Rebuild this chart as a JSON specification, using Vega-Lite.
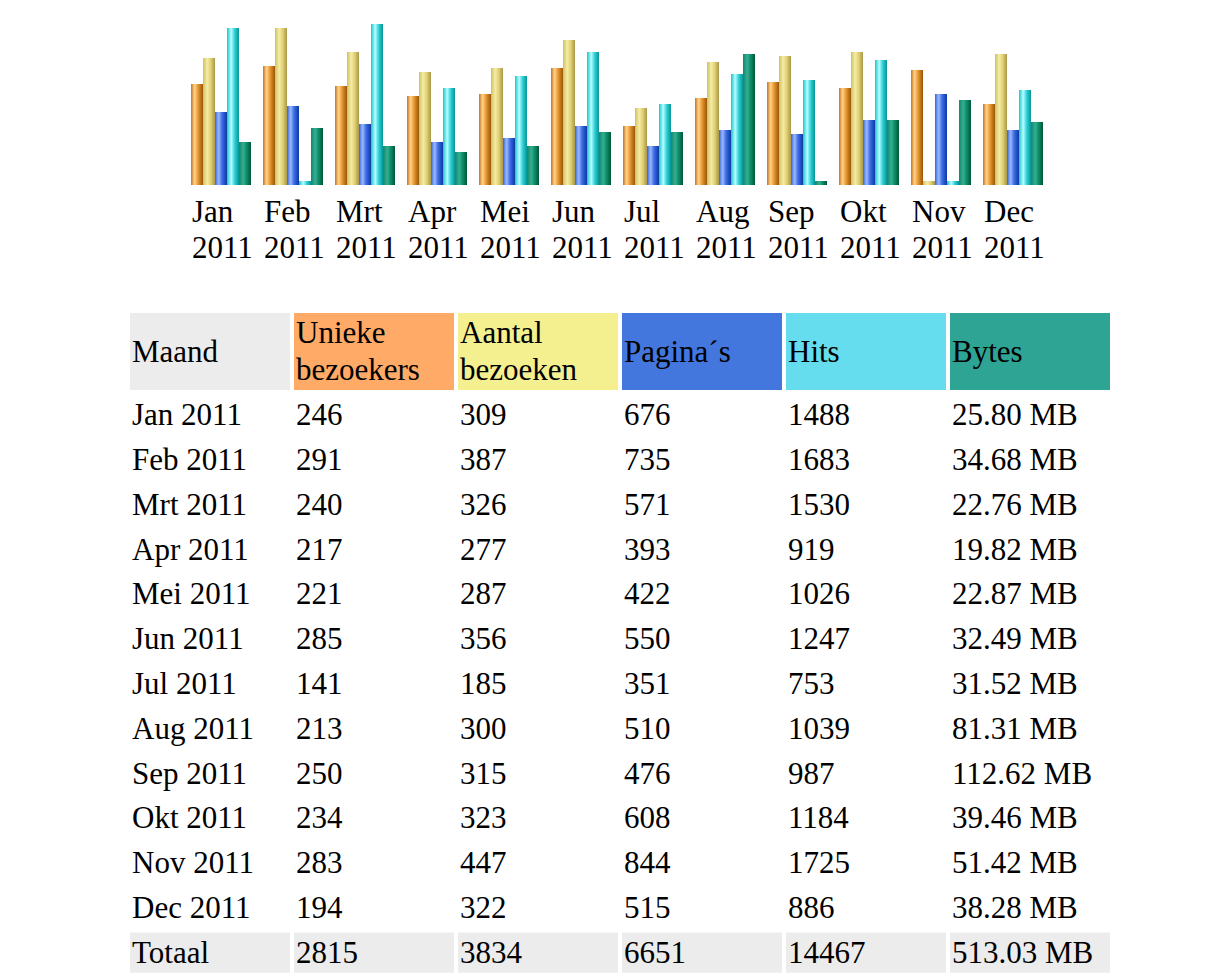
{
  "$schema": "https://vega.github.io/schema/vega-lite/v6.json",
  "background": "white",
  "padding": {"left": 130, "top": 15, "right": 0, "bottom": 0},
  "autosize": {"type": "pad"},
  "bounds": "flush",
  "spacing": 128,
  "config": {
    "view": {"stroke": null},
    "font": "Liberation Serif",
    "text": {"font": "Liberation Serif", "fontSize": 31, "color": "#000000"}
  },
  "datasets": {
    "staven": [
      {"maand": "Jan 2011", "reeks": "u", "waarde": 101},
      {"maand": "Jan 2011", "reeks": "v", "waarde": 127},
      {"maand": "Jan 2011", "reeks": "p", "waarde": 73},
      {"maand": "Jan 2011", "reeks": "h", "waarde": 157},
      {"maand": "Jan 2011", "reeks": "k", "waarde": 43},
      {"maand": "Feb 2011", "reeks": "u", "waarde": 119},
      {"maand": "Feb 2011", "reeks": "v", "waarde": 157},
      {"maand": "Feb 2011", "reeks": "p", "waarde": 79},
      {"maand": "Feb 2011", "reeks": "h", "waarde": 4},
      {"maand": "Feb 2011", "reeks": "k", "waarde": 57},
      {"maand": "Mrt 2011", "reeks": "u", "waarde": 99},
      {"maand": "Mrt 2011", "reeks": "v", "waarde": 133},
      {"maand": "Mrt 2011", "reeks": "p", "waarde": 61},
      {"maand": "Mrt 2011", "reeks": "h", "waarde": 161},
      {"maand": "Mrt 2011", "reeks": "k", "waarde": 39},
      {"maand": "Apr 2011", "reeks": "u", "waarde": 89},
      {"maand": "Apr 2011", "reeks": "v", "waarde": 113},
      {"maand": "Apr 2011", "reeks": "p", "waarde": 43},
      {"maand": "Apr 2011", "reeks": "h", "waarde": 97},
      {"maand": "Apr 2011", "reeks": "k", "waarde": 33},
      {"maand": "Mei 2011", "reeks": "u", "waarde": 91},
      {"maand": "Mei 2011", "reeks": "v", "waarde": 117},
      {"maand": "Mei 2011", "reeks": "p", "waarde": 47},
      {"maand": "Mei 2011", "reeks": "h", "waarde": 109},
      {"maand": "Mei 2011", "reeks": "k", "waarde": 39},
      {"maand": "Jun 2011", "reeks": "u", "waarde": 117},
      {"maand": "Jun 2011", "reeks": "v", "waarde": 145},
      {"maand": "Jun 2011", "reeks": "p", "waarde": 59},
      {"maand": "Jun 2011", "reeks": "h", "waarde": 133},
      {"maand": "Jun 2011", "reeks": "k", "waarde": 53},
      {"maand": "Jul 2011", "reeks": "u", "waarde": 59},
      {"maand": "Jul 2011", "reeks": "v", "waarde": 77},
      {"maand": "Jul 2011", "reeks": "p", "waarde": 39},
      {"maand": "Jul 2011", "reeks": "h", "waarde": 81},
      {"maand": "Jul 2011", "reeks": "k", "waarde": 53},
      {"maand": "Aug 2011", "reeks": "u", "waarde": 87},
      {"maand": "Aug 2011", "reeks": "v", "waarde": 123},
      {"maand": "Aug 2011", "reeks": "p", "waarde": 55},
      {"maand": "Aug 2011", "reeks": "h", "waarde": 111},
      {"maand": "Aug 2011", "reeks": "k", "waarde": 131},
      {"maand": "Sep 2011", "reeks": "u", "waarde": 103},
      {"maand": "Sep 2011", "reeks": "v", "waarde": 129},
      {"maand": "Sep 2011", "reeks": "p", "waarde": 51},
      {"maand": "Sep 2011", "reeks": "h", "waarde": 105},
      {"maand": "Sep 2011", "reeks": "k", "waarde": 4},
      {"maand": "Okt 2011", "reeks": "u", "waarde": 97},
      {"maand": "Okt 2011", "reeks": "v", "waarde": 133},
      {"maand": "Okt 2011", "reeks": "p", "waarde": 65},
      {"maand": "Okt 2011", "reeks": "h", "waarde": 125},
      {"maand": "Okt 2011", "reeks": "k", "waarde": 65},
      {"maand": "Nov 2011", "reeks": "u", "waarde": 115},
      {"maand": "Nov 2011", "reeks": "v", "waarde": 4},
      {"maand": "Nov 2011", "reeks": "p", "waarde": 91},
      {"maand": "Nov 2011", "reeks": "h", "waarde": 4},
      {"maand": "Nov 2011", "reeks": "k", "waarde": 85},
      {"maand": "Dec 2011", "reeks": "u", "waarde": 81},
      {"maand": "Dec 2011", "reeks": "v", "waarde": 131},
      {"maand": "Dec 2011", "reeks": "p", "waarde": 55},
      {"maand": "Dec 2011", "reeks": "h", "waarde": 95},
      {"maand": "Dec 2011", "reeks": "k", "waarde": 63}
    ],
    "kop": [
      {"kolom": "Maand", "label": "Maand", "regels": 1},
      {"kolom": "Unieke", "label": "Unieke|bezoekers", "regels": 2},
      {"kolom": "Aantal", "label": "Aantal|bezoeken", "regels": 2},
      {"kolom": "Paginas", "label": "Pagina´s", "regels": 1},
      {"kolom": "Hits", "label": "Hits", "regels": 1},
      {"kolom": "Bytes", "label": "Bytes", "regels": 1}
    ],
    "tabel": [
      {"Maand": "Jan 2011", "Unieke": "246", "Aantal": "309", "Paginas": "676", "Hits": "1488", "Bytes": "25.80 MB"},
      {"Maand": "Feb 2011", "Unieke": "291", "Aantal": "387", "Paginas": "735", "Hits": "1683", "Bytes": "34.68 MB"},
      {"Maand": "Mrt 2011", "Unieke": "240", "Aantal": "326", "Paginas": "571", "Hits": "1530", "Bytes": "22.76 MB"},
      {"Maand": "Apr 2011", "Unieke": "217", "Aantal": "277", "Paginas": "393", "Hits": "919", "Bytes": "19.82 MB"},
      {"Maand": "Mei 2011", "Unieke": "221", "Aantal": "287", "Paginas": "422", "Hits": "1026", "Bytes": "22.87 MB"},
      {"Maand": "Jun 2011", "Unieke": "285", "Aantal": "356", "Paginas": "550", "Hits": "1247", "Bytes": "32.49 MB"},
      {"Maand": "Jul 2011", "Unieke": "141", "Aantal": "185", "Paginas": "351", "Hits": "753", "Bytes": "31.52 MB"},
      {"Maand": "Aug 2011", "Unieke": "213", "Aantal": "300", "Paginas": "510", "Hits": "1039", "Bytes": "81.31 MB"},
      {"Maand": "Sep 2011", "Unieke": "250", "Aantal": "315", "Paginas": "476", "Hits": "987", "Bytes": "112.62 MB"},
      {"Maand": "Okt 2011", "Unieke": "234", "Aantal": "323", "Paginas": "608", "Hits": "1184", "Bytes": "39.46 MB"},
      {"Maand": "Nov 2011", "Unieke": "283", "Aantal": "447", "Paginas": "844", "Hits": "1725", "Bytes": "51.42 MB"},
      {"Maand": "Dec 2011", "Unieke": "194", "Aantal": "322", "Paginas": "515", "Hits": "886", "Bytes": "38.28 MB"},
      {"Maand": "Totaal", "Unieke": "2815", "Aantal": "3834", "Paginas": "6651", "Hits": "14467", "Bytes": "513.03 MB"}
    ]
  },
  "vconcat": [
    {
      "width": 980,
      "height": 170,
      "data": {"name": "staven"},
      "encoding": {
        "x": {
          "field": "maand",
          "type": "nominal",
          "sort": null,
          "scale": {"paddingInner": 0.166667, "paddingOuter": 0.888889, "align": 0.4766},
          "axis": {
            "title": null,
            "domain": false,
            "ticks": false,
            "labelAngle": 0,
            "labelAlign": "left",
            "labelBaseline": "top",
            "labelOffset": -29,
            "labelPadding": 12,
            "labelFont": "Liberation Serif",
            "labelFontSize": 31,
            "labelColor": "#000000",
            "labelLineHeight": 36.7,
            "labelOverlap": false,
            "labelBound": false,
            "labelExpr": "split(datum.value, ' ')"
          }
        },
        "xOffset": {
          "field": "reeks",
          "type": "nominal",
          "scale": {"domain": ["u", "v", "p", "h", "k"], "paddingInner": 0, "paddingOuter": 0}
        },
        "y": {
          "field": "waarde",
          "type": "quantitative",
          "scale": {"domain": [0, 170], "nice": false, "zero": true},
          "axis": null
        }
      },
      "layer": [
        {
          "transform": [{"filter": "datum.reeks == 'u'"}],
          "mark": {"type": "bar", "color": {"gradient": "linear", "x1": 0, "y1": 0, "x2": 1, "y2": 0, "stops": [
            {"offset": 0, "color": "#c8761a"}, {"offset": 0.3, "color": "#ffd28c"}, {"offset": 0.6, "color": "#e6952e"}, {"offset": 1, "color": "#9a5506"}]}}
        },
        {
          "transform": [{"filter": "datum.reeks == 'v'"}],
          "mark": {"type": "bar", "color": {"gradient": "linear", "x1": 0, "y1": 0, "x2": 1, "y2": 0, "stops": [
            {"offset": 0, "color": "#d2bf60"}, {"offset": 0.35, "color": "#f4eda8"}, {"offset": 0.65, "color": "#e0cf70"}, {"offset": 1, "color": "#a8974a"}]}}
        },
        {
          "transform": [{"filter": "datum.reeks == 'p'"}],
          "mark": {"type": "bar", "color": {"gradient": "linear", "x1": 0, "y1": 0, "x2": 1, "y2": 0, "stops": [
            {"offset": 0, "color": "#3564d6"}, {"offset": 0.3, "color": "#9ab8ff"}, {"offset": 0.6, "color": "#3a6ae0"}, {"offset": 1, "color": "#0a3aa4"}]}}
        },
        {
          "transform": [{"filter": "datum.reeks == 'h'"}],
          "mark": {"type": "bar", "color": {"gradient": "linear", "x1": 0, "y1": 0, "x2": 1, "y2": 0, "stops": [
            {"offset": 0, "color": "#16c6ce"}, {"offset": 0.35, "color": "#bafcff"}, {"offset": 0.65, "color": "#2ccfd6"}, {"offset": 1, "color": "#089494"}]}}
        },
        {
          "transform": [{"filter": "datum.reeks == 'k'"}],
          "mark": {"type": "bar", "color": {"gradient": "linear", "x1": 0, "y1": 0, "x2": 1, "y2": 0, "stops": [
            {"offset": 0, "color": "#0a8a68"}, {"offset": 0.35, "color": "#38ab94"}, {"offset": 0.65, "color": "#0c8c66"}, {"offset": 1, "color": "#00563a"}]}}
        }
      ]
    },
    {
      "spacing": 3,
      "bounds": "flush",
      "vconcat": [
        {
          "width": 980,
          "height": 77,
          "data": {"name": "kop"},
          "encoding": {
            "x": {
              "field": "kolom",
              "type": "nominal",
              "scale": {"domain": ["Maand", "Unieke", "Aantal", "Paginas", "Hits", "Bytes"], "paddingInner": 0.02439, "paddingOuter": 0},
              "axis": null
            }
          },
          "layer": [
            {
              "mark": {"type": "rect"},
              "encoding": {
                "color": {
                  "field": "kolom",
                  "type": "nominal",
                  "scale": {"domain": ["Maand", "Unieke", "Aantal", "Paginas", "Hits", "Bytes"], "range": ["#ECECEC", "#FFAA66", "#F4F090", "#4477DD", "#66DDEE", "#2EA495"]},
                  "legend": null
                }
              }
            },
            {
              "transform": [{"filter": "datum.regels == 1"}],
              "mark": {"type": "text", "align": "left", "baseline": "middle", "dx": 2, "dy": 1, "font": "Liberation Serif", "fontSize": 31, "color": "#000000"},
              "encoding": {
                "x": {"field": "kolom", "type": "nominal", "bandPosition": 0},
                "text": {"field": "label", "type": "nominal"}
              }
            },
            {
              "transform": [{"filter": "datum.regels == 2"}],
              "mark": {"type": "text", "align": "left", "baseline": "middle", "dx": 2, "dy": -17.5, "lineBreak": "|", "lineHeight": 36.7, "font": "Liberation Serif", "fontSize": 31, "color": "#000000"},
              "encoding": {
                "x": {"field": "kolom", "type": "nominal", "bandPosition": 0},
                "text": {"field": "label", "type": "nominal"}
              }
            }
          ]
        },
        {
          "width": 980,
          "height": 582,
          "data": {"name": "tabel"},
          "transform": [
            {"fold": ["Maand", "Unieke", "Aantal", "Paginas", "Hits", "Bytes"], "as": ["kolom", "waarde"]}
          ],
          "encoding": {
            "x": {
              "field": "kolom",
              "type": "nominal",
              "scale": {"domain": ["Maand", "Unieke", "Aantal", "Paginas", "Hits", "Bytes"], "paddingInner": 0.02439, "paddingOuter": 0},
              "axis": null
            },
            "y": {
              "field": "Maand",
              "type": "nominal",
              "scale": {
                "domain": ["Jan 2011", "Feb 2011", "Mrt 2011", "Apr 2011", "Mei 2011", "Jun 2011", "Jul 2011", "Aug 2011", "Sep 2011", "Okt 2011", "Nov 2011", "Dec 2011", "Totaal"],
                "paddingInner": 0.106,
                "paddingOuter": 0.053
              },
              "axis": null
            }
          },
          "layer": [
            {
              "transform": [{"filter": "datum.Maand == 'Totaal'"}],
              "mark": {"type": "rect", "color": "#ECECEC"}
            },
            {
              "mark": {"type": "text", "align": "left", "baseline": "middle", "dx": 2, "dy": 1, "font": "Liberation Serif", "fontSize": 31, "color": "#000000"},
              "encoding": {
                "x": {"field": "kolom", "type": "nominal", "bandPosition": 0},
                "text": {"field": "waarde", "type": "nominal"}
              }
            }
          ]
        }
      ]
    }
  ]
}
